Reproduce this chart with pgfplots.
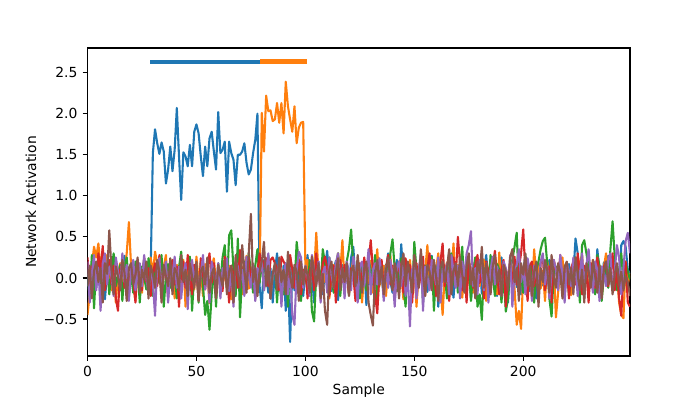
\documentclass[border=0pt]{standalone}
\usepackage{fontspec}
\setmainfont{DejaVu Sans}
\usepackage{pgfplots}
\usepackage{pgfplotstable}
\pgfplotsset{compat=1.18}
\definecolor{c0}{HTML}{1F77B4}
\definecolor{c1}{HTML}{FF7F0E}
\definecolor{c2}{HTML}{2CA02C}
\definecolor{c3}{HTML}{D62728}
\definecolor{c4}{HTML}{9467BD}
\definecolor{c5}{HTML}{8C564B}

\pgfplotstableread[row sep=\\]{
y\\
0.05\\-0.21\\0.18\\0.02\\-0.12\\0.24\\-0.08\\0.11\\-0.26\\0.07\\
0.15\\-0.03\\-0.18\\0.21\\0.04\\-0.14\\0.09\\0.27\\-0.06\\-0.22\\
0.13\\0.01\\-0.09\\0.19\\-0.15\\0.06\\0.22\\-0.04\\-0.17\\0.10\\
1.52\\1.81\\1.64\\1.51\\1.65\\1.54\\1.15\\1.32\\1.60\\1.30\\
1.56\\2.07\\1.48\\0.95\\1.53\\1.48\\1.36\\1.62\\1.36\\1.78\\
1.87\\1.76\\1.48\\1.24\\1.60\\1.36\\1.70\\1.78\\1.54\\1.32\\
2.02\\1.52\\1.56\\1.66\\1.05\\1.66\\1.52\\1.44\\1.13\\1.50\\
1.50\\1.54\\1.64\\1.40\\1.26\\1.32\\1.52\\1.68\\2.00\\
-0.10\\-0.37\\0.22\\0.05\\-0.18\\0.12\\-0.30\\0.08\\0.30\\-0.05\\
-0.25\\0.15\\-0.40\\0.02\\-0.78\\0.10\\-0.15\\0.25\\-0.08\\0.18\\
-0.22\\0.06\\0.28\\-0.12\\0.03\\-0.30\\0.14\\0.20\\-0.06\\-0.20\\
0.11\\0.33\\-0.02\\-0.16\\0.08\\0.21\\-0.27\\0.04\\0.16\\-0.10\\
0.09\\-0.21\\0.25\\0.38\\-0.05\\0.12\\-0.19\\0.02\\0.17\\-0.33\\
0.07\\0.19\\-0.08\\0.26\\-0.14\\0.05\\0.13\\-0.24\\0.10\\0.30\\
-0.04\\-0.18\\0.08\\0.22\\-0.11\\0.41\\0.01\\-0.20\\0.14\\0.06\\
-0.13\\0.18\\-0.28\\0.09\\0.24\\-0.07\\0.12\\-0.17\\0.03\\0.27\\
-0.09\\0.15\\-0.35\\0.05\\0.20\\-0.12\\0.08\\0.31\\-0.02\\-0.24\\
0.13\\0.02\\-0.15\\0.23\\0.07\\-0.10\\0.17\\-0.26\\0.04\\0.11\\
-0.06\\0.20\\-0.19\\0.09\\0.28\\-0.03\\-0.14\\0.16\\0.01\\-0.22\\
0.12\\0.25\\-0.08\\0.06\\-0.30\\0.14\\0.02\\0.19\\-0.11\\0.08\\
-0.20\\0.10\\0.26\\-0.05\\-0.16\\0.13\\0.03\\-0.25\\0.18\\0.07\\
-0.09\\0.15\\-0.02\\0.22\\-0.18\\0.05\\0.11\\-0.13\\0.24\\0.00\\
-0.21\\0.09\\0.17\\-0.07\\0.04\\0.48\\0.30\\-0.12\\0.06\\-0.24\\
0.14\\0.21\\-0.04\\0.10\\-0.17\\0.35\\0.08\\-0.10\\0.19\\-0.06\\
0.27\\0.02\\-0.15\\0.12\\0.05\\-0.20\\0.40\\0.45\\0.38\\0.10\\0.05\\
}\tblA

\pgfplotstableread[row sep=\\]{
y\\
-0.45\\-0.20\\0.15\\0.38\\0.25\\0.42\\0.10\\0.35\\-0.05\\0.28\\
0.12\\-0.15\\0.20\\-0.30\\0.05\\0.18\\-0.22\\0.08\\0.30\\0.68\\
0.15\\-0.10\\-0.28\\0.12\\0.02\\-0.18\\0.22\\0.06\\-0.12\\0.25\\
0.05\\0.32\\0.18\\0.20\\-0.08\\0.14\\0.28\\-0.20\\0.03\\0.10\\
-0.25\\0.16\\0.07\\-0.10\\0.22\\-0.35\\0.09\\0.01\\0.19\\-0.14\\
0.26\\-0.04\\0.11\\-0.22\\0.17\\0.04\\-0.31\\0.13\\0.24\\-0.08\\
0.08\\-0.16\\0.21\\0.02\\-0.11\\0.15\\-0.26\\0.06\\0.18\\-0.03\\
0.12\\-0.20\\0.09\\0.27\\-0.13\\0.05\\0.16\\-0.07\\0.10\\-0.05\\
2.01\\1.54\\2.22\\2.03\\2.04\\1.91\\1.93\\2.13\\1.89\\2.13\\
1.76\\2.39\\2.09\\1.93\\1.78\\2.09\\1.64\\1.83\\1.89\\1.90\\
0.15\\0.22\\-0.10\\0.18\\0.05\\0.55\\0.08\\-0.15\\0.20\\-0.05\\
0.12\\-0.25\\0.02\\0.16\\-0.12\\0.30\\0.07\\0.46\\-0.08\\0.10\\
-0.20\\0.05\\0.24\\-0.14\\0.09\\0.18\\-0.30\\0.03\\0.14\\-0.06\\
0.21\\-0.18\\0.08\\0.35\\-0.10\\0.04\\0.15\\-0.22\\0.12\\0.28\\
-0.04\\0.10\\-0.16\\0.20\\0.06\\-0.26\\0.13\\0.01\\0.22\\-0.09\\
0.17\\-0.35\\0.05\\0.26\\-0.12\\0.08\\0.40\\-0.05\\0.14\\-0.20\\
0.11\\0.30\\-0.08\\-0.45\\0.07\\0.19\\-0.15\\0.03\\0.42\\-0.11\\
0.16\\0.02\\-0.24\\0.09\\0.20\\-0.06\\0.13\\-0.18\\0.25\\0.05\\
-0.10\\0.14\\0.22\\-0.28\\0.06\\0.18\\-0.03\\0.10\\-0.20\\0.31\\
-0.07\\0.12\\0.04\\-0.16\\0.23\\0.08\\-0.12\\-0.57\\-0.40\\-0.62\\
0.05\\0.20\\-0.08\\0.13\\-0.22\\0.35\\0.02\\0.17\\-0.13\\0.09\\
-0.28\\0.21\\0.06\\-0.05\\0.14\\-0.48\\-0.18\\0.10\\0.25\\-0.09\\
0.16\\0.03\\-0.21\\0.12\\0.07\\-0.14\\0.19\\0.28\\-0.06\\0.11\\
-0.17\\0.08\\0.22\\-0.10\\0.04\\0.15\\-0.25\\0.13\\0.30\\-0.02\\
0.09\\-0.15\\0.18\\0.05\\-0.30\\-0.45\\-0.49\\0.20\\-0.08\\0.06\\
}\tblB

\pgfplotstableread[row sep=\\]{
y\\
0.10\\-0.25\\0.28\\-0.37\\0.15\\0.05\\-0.12\\0.22\\-0.05\\0.18\\
-0.20\\0.08\\0.30\\-0.10\\0.02\\0.16\\-0.28\\0.12\\0.25\\-0.08\\
0.04\\-0.18\\0.20\\0.09\\-0.30\\0.14\\0.01\\-0.14\\0.24\\0.06\\
-0.22\\0.11\\0.19\\-0.07\\0.28\\-0.35\\0.03\\0.17\\-0.12\\0.22\\
0.08\\-0.25\\0.13\\0.32\\-0.04\\0.10\\-0.18\\0.26\\-0.40\\0.05\\
0.15\\-0.30\\0.20\\-0.10\\-0.45\\-0.28\\-0.63\\-0.20\\0.12\\-0.35\\
0.18\\-0.05\\0.25\\0.40\\-0.15\\0.52\\0.58\\0.10\\-0.22\\0.48\\
-0.48\\0.05\\0.20\\-0.12\\0.30\\0.08\\-0.18\\0.15\\0.35\\-0.06\\
0.22\\-0.15\\0.10\\0.28\\-0.25\\0.02\\0.16\\-0.30\\0.12\\0.05\\
-0.20\\0.18\\-0.35\\0.25\\0.08\\-0.12\\0.44\\0.20\\-0.28\\0.10\\
0.03\\-0.15\\0.22\\-0.40\\-0.53\\0.06\\0.14\\-0.08\\0.35\\0.18\\
-0.10\\0.25\\0.02\\-0.18\\0.12\\0.30\\-0.22\\0.08\\-0.05\\0.20\\
0.35\\0.59\\0.15\\-0.12\\0.06\\-0.25\\0.18\\0.04\\-0.15\\0.22\\
0.10\\-0.08\\0.28\\-0.30\\0.13\\0.02\\-0.20\\0.16\\0.08\\0.30\\
0.47\\0.12\\-0.16\\0.05\\0.24\\-0.10\\-0.35\\0.18\\0.07\\-0.22\\
0.44\\0.10\\-0.05\\0.20\\-0.30\\0.15\\0.03\\-0.12\\0.26\\-0.40\\
0.08\\0.18\\-0.10\\0.22\\0.05\\-0.25\\0.12\\0.30\\-0.08\\0.16\\
-0.18\\0.10\\0.38\\-0.14\\0.02\\0.20\\-0.28\\0.09\\0.25\\-0.35\\
-0.20\\-0.51\\0.12\\0.06\\-0.15\\0.28\\0.03\\-0.22\\0.17\\0.10\\
-0.30\\0.05\\-0.41\\-0.25\\0.14\\0.22\\0.38\\0.55\\-0.10\\0.08\\
-0.18\\0.26\\0.04\\-0.12\\0.15\\-0.30\\0.10\\0.20\\0.35\\0.45\\
0.49\\0.18\\-0.25\\-0.47\\0.06\\0.14\\-0.08\\0.22\\-0.15\\0.03\\
0.19\\-0.22\\0.11\\-0.05\\0.25\\0.08\\-0.30\\0.40\\0.46\\0.30\\
0.12\\-0.10\\0.05\\-0.20\\0.28\\0.15\\-0.28\\0.02\\0.20\\-0.12\\
0.35\\0.69\\0.25\\-0.15\\0.10\\0.30\\-0.05\\0.18\\0.08\\-0.02\\
}\tblC

\pgfplotstableread[row sep=\\]{
y\\
0.25\\-0.10\\0.12\\0.20\\-0.05\\0.30\\0.08\\0.39\\-0.15\\0.05\\
0.22\\-0.08\\0.15\\-0.25\\-0.40\\0.10\\0.18\\-0.12\\0.06\\-0.20\\
0.14\\0.02\\-0.30\\0.20\\0.08\\-0.15\\0.25\\-0.05\\0.12\\-0.22\\
0.05\\0.18\\-0.10\\0.28\\-0.18\\0.03\\0.15\\-0.25\\0.10\\0.22\\
-0.08\\0.14\\-0.35\\0.06\\0.20\\-0.12\\0.28\\0.01\\-0.20\\0.16\\
0.08\\-0.28\\0.24\\0.04\\-0.14\\0.12\\0.30\\-0.06\\0.18\\-0.22\\
0.10\\0.02\\-0.16\\0.26\\0.07\\-0.30\\0.15\\-0.03\\0.20\\-0.12\\
0.34\\0.05\\-0.20\\0.12\\0.25\\-0.08\\0.17\\-0.26\\0.09\\0.30\\
0.08\\0.20\\0.24\\-0.10\\0.22\\0.25\\0.18\\0.12\\-0.15\\0.26\\
0.20\\0.15\\-0.05\\0.28\\0.10\\-0.12\\0.16\\0.22\\-0.20\\0.05\\
0.14\\-0.25\\0.08\\0.20\\-0.15\\0.30\\0.02\\-0.10\\0.18\\0.26\\
0.12\\-0.22\\0.05\\0.15\\-0.30\\0.10\\0.22\\-0.05\\0.16\\0.08\\
-0.18\\0.12\\0.03\\-0.28\\0.20\\0.14\\-0.10\\0.25\\0.06\\0.18\\
0.46\\0.10\\-0.20\\-0.43\\0.05\\0.22\\-0.15\\0.12\\0.28\\-0.08\\
0.15\\-0.25\\0.02\\0.20\\0.10\\-0.18\\0.24\\-0.05\\0.16\\-0.30\\
0.08\\0.18\\-0.12\\0.05\\0.26\\-0.20\\0.12\\0.30\\-0.08\\0.14\\
-0.22\\0.06\\0.20\\0.42\\-0.10\\0.15\\-0.28\\0.08\\0.25\\0.02\\
0.50\\0.18\\-0.15\\0.10\\-0.30\\0.22\\0.05\\-0.12\\0.16\\0.28\\
-0.06\\0.12\\-0.25\\0.20\\0.08\\-0.18\\0.14\\0.33\\0.02\\-0.20\\
0.10\\0.22\\-0.35\\0.05\\0.18\\-0.12\\0.26\\-0.08\\0.12\\0.30\\
0.59\\0.05\\-0.28\\0.15\\0.20\\-0.10\\0.08\\-0.22\\0.18\\0.25\\
-0.15\\0.06\\0.14\\-0.30\\0.22\\0.10\\-0.05\\0.28\\-0.18\\0.02\\
0.16\\-0.25\\0.12\\0.20\\-0.08\\0.30\\0.04\\-0.20\\0.15\\0.08\\
-0.30\\0.18\\0.10\\-0.12\\0.25\\0.03\\-0.22\\0.14\\0.20\\-0.10\\
0.05\\0.30\\-0.15\\0.12\\-0.25\\-0.46\\0.08\\0.20\\-0.30\\-0.35\\
}\tblD

\pgfplotstableread[row sep=\\]{
y\\
0.20\\-0.30\\0.05\\0.28\\-0.15\\0.12\\-0.40\\0.18\\0.30\\-0.08\\
0.14\\0.02\\-0.22\\0.25\\0.08\\-0.12\\0.30\\-0.05\\0.16\\-0.28\\
0.10\\0.22\\-0.15\\0.06\\0.18\\-0.10\\0.28\\0.01\\-0.20\\0.12\\
-0.05\\-0.46\\0.15\\0.24\\-0.18\\0.08\\0.20\\-0.30\\0.10\\0.02\\
0.26\\-0.12\\0.14\\-0.25\\0.05\\0.18\\-0.38\\0.12\\0.22\\-0.08\\
0.15\\-0.20\\0.04\\0.28\\-0.14\\0.10\\-0.30\\0.20\\0.06\\-0.10\\
0.18\\-0.25\\0.12\\0.02\\0.24\\-0.16\\0.08\\-0.35\\0.20\\0.14\\
-0.05\\0.10\\-0.22\\0.26\\0.04\\-0.12\\0.16\\-0.28\\0.12\\0.06\\
0.20\\-0.15\\0.08\\0.30\\-0.25\\0.02\\0.14\\-0.10\\0.22\\-0.35\\
0.05\\0.18\\-0.20\\0.12\\-0.45\\-0.57\\0.08\\0.32\\0.25\\-0.12\\
0.15\\0.02\\-0.22\\0.28\\0.10\\-0.08\\0.20\\-0.30\\0.06\\0.14\\
-0.18\\0.25\\0.04\\-0.12\\0.18\\0.30\\-0.05\\0.12\\-0.25\\0.20\\
0.08\\-0.15\\0.26\\0.02\\-0.30\\0.14\\0.20\\-0.10\\0.06\\0.35\\
-0.20\\0.10\\0.18\\-0.08\\0.24\\0.05\\-0.28\\0.15\\-0.12\\0.22\\
0.03\\-0.35\\0.12\\0.20\\-0.10\\0.28\\-0.22\\0.06\\-0.59\\0.10\\
0.18\\-0.25\\0.08\\0.30\\-0.40\\0.14\\0.02\\-0.15\\0.22\\0.10\\
-0.08\\0.25\\-0.30\\0.12\\0.05\\0.18\\-0.20\\0.28\\0.08\\-0.12\\
0.15\\-0.25\\0.20\\0.02\\0.30\\0.40\\0.57\\-0.10\\0.12\\-0.20\\
0.22\\0.05\\-0.15\\0.18\\-0.30\\0.10\\0.26\\-0.08\\0.14\\0.02\\
-0.22\\0.20\\0.12\\-0.10\\0.28\\-0.35\\0.06\\0.16\\0.35\\-0.05\\
0.12\\-0.20\\0.24\\0.08\\-0.28\\0.15\\0.02\\-0.12\\0.20\\0.30\\
-0.08\\0.14\\-0.25\\0.06\\0.22\\0.10\\-0.15\\0.28\\0.04\\-0.30\\
0.18\\0.08\\-0.10\\0.25\\0.12\\-0.22\\0.05\\0.30\\-0.12\\0.16\\
0.35\\0.02\\-0.18\\0.20\\0.10\\-0.28\\0.14\\0.06\\-0.10\\0.22\\
0.30\\-0.15\\0.08\\0.40\\0.25\\-0.20\\0.12\\0.45\\0.55\\0.30\\
}\tblE

\pgfplotstableread[row sep=\\]{
y\\
-0.10\\0.15\\-0.25\\0.08\\0.20\\-0.05\\0.12\\-0.30\\0.18\\0.05\\
0.58\\0.10\\-0.20\\0.14\\0.02\\-0.15\\0.22\\0.06\\-0.28\\0.12\\
0.18\\-0.08\\0.04\\0.25\\-0.18\\0.10\\-0.02\\0.20\\-0.25\\0.15\\
0.05\\-0.12\\0.22\\0.08\\-0.30\\0.16\\0.02\\-0.10\\0.24\\-0.20\\
0.12\\0.06\\-0.15\\0.28\\-0.05\\0.10\\-0.22\\0.18\\0.02\\-0.12\\
0.20\\-0.28\\0.08\\0.14\\-0.08\\0.25\\-0.18\\0.05\\0.12\\-0.25\\
0.16\\0.02\\-0.10\\0.22\\-0.20\\0.08\\0.15\\-0.30\\0.28\\0.04\\
-0.12\\0.40\\0.10\\-0.18\\0.30\\0.78\\-0.05\\0.12\\-0.22\\0.08\\
0.20\\0.44\\-0.10\\0.15\\-0.25\\0.05\\0.18\\-0.15\\0.25\\-0.05\\
0.10\\-0.20\\0.32\\0.02\\-0.12\\0.16\\0.08\\-0.28\\0.20\\-0.08\\
0.14\\0.04\\-0.18\\0.26\\0.08\\-0.10\\0.18\\-0.25\\0.05\\-0.40\\
-0.57\\0.10\\0.20\\-0.12\\0.06\\0.24\\-0.15\\0.12\\-0.05\\0.18\\
-0.22\\0.08\\0.15\\-0.10\\0.28\\0.02\\-0.18\\0.12\\0.20\\-0.30\\
-0.45\\-0.58\\0.05\\0.22\\-0.08\\0.14\\-0.20\\0.10\\0.25\\0.02\\
-0.15\\0.18\\0.06\\-0.25\\0.12\\0.30\\-0.10\\0.20\\0.04\\-0.18\\
0.28\\0.10\\-0.12\\0.35\\0.05\\-0.22\\0.16\\0.08\\-0.15\\0.22\\
0.02\\-0.28\\0.14\\0.20\\-0.05\\0.12\\0.35\\-0.20\\0.08\\0.18\\
-0.10\\0.26\\0.04\\-0.18\\0.15\\0.30\\-0.08\\0.12\\-0.25\\0.20\\
0.06\\0.38\\-0.12\\0.18\\0.02\\-0.20\\0.14\\0.28\\-0.06\\0.10\\
-0.22\\0.16\\0.08\\-0.15\\0.25\\0.35\\-0.05\\0.12\\-0.28\\0.18\\
0.04\\0.30\\-0.10\\0.15\\-0.22\\0.08\\0.20\\-0.35\\0.12\\-0.05\\
0.22\\0.10\\-0.18\\0.28\\0.02\\-0.12\\0.18\\0.06\\-0.25\\0.14\\
0.20\\-0.08\\0.12\\-0.20\\0.25\\0.05\\-0.15\\0.10\\-0.30\\0.18\\
0.08\\-0.12\\0.22\\0.02\\-0.18\\0.15\\-0.25\\0.10\\0.20\\-0.08\\
0.12\\-0.20\\0.05\\0.18\\-0.10\\0.08\\-0.15\\0.02\\-0.05\\-0.22\\
}\tblF

\begin{document}
\begin{tikzpicture}
\path[use as bounding box] (0,0) rectangle (504pt,288pt);
\begin{axis}[
  at={(63pt,31.68pt)}, anchor=south west,
  scale only axis, width=390.6pt, height=221.76pt,
  xmin=0, xmax=249, ymin=-0.95, ymax=2.80,
  axis line style={line width=0.8pt},
  tick align=outside, xtick pos=bottom, ytick pos=left,
  major tick length=3.5pt,
  every tick/.style={black, line width=0.8pt},
  xtick={0,50,100,150,200},
  xticklabels={0,50,100,150,200},
  ytick={-0.5,0,0.5,1,1.5,2,2.5},
  yticklabels={−0.5,0.0,0.5,1.0,1.5,2.0,2.5},
  tick label style={font=\fontsize{10}{12}\selectfont, inner sep=0pt},
  xticklabel style={anchor=north, yshift=-3.5pt},
  yticklabel style={anchor=east, xshift=-3.6pt},
  xlabel={Sample}, ylabel={Network Activation},
  label style={font=\fontsize{10}{12}\selectfont},
  xlabel style={at={(axis description cs:0.5,-0.1127)}, anchor=center},
  ylabel style={at={(axis description cs:-0.1042,0.5)}, anchor=center, rotate=0},
  every axis plot/.append style={line width=1.5pt, line join=round},
]
\addplot[c0, no markers] table[x expr=\coordindex, y=y] {\tblA};
\addplot[c1, no markers] table[x expr=\coordindex, y=y] {\tblB};
\addplot[c2, no markers] table[x expr=\coordindex, y=y] {\tblC};
\addplot[c3, no markers] table[x expr=\coordindex, y=y] {\tblD};
\addplot[c4, no markers] table[x expr=\coordindex, y=y] {\tblE};
\addplot[c5, no markers] table[x expr=\coordindex, y=y] {\tblF};
\addplot[c0, no markers, line width=3pt, line cap=butt] coordinates {(28.7,2.63) (80.5,2.63)};
\addplot[c1, no markers, line width=3pt, line cap=butt] coordinates {(79.2,2.635) (100.6,2.635)};
\end{axis}
\end{tikzpicture}
\end{document}
